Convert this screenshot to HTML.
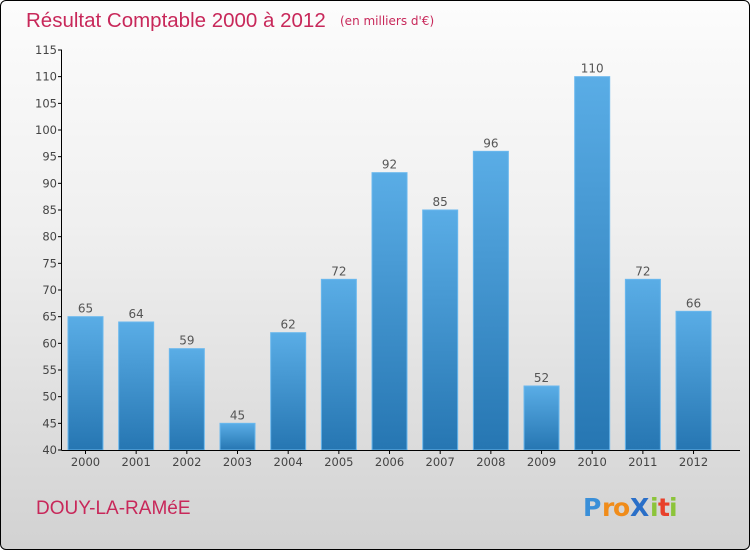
<!DOCTYPE html>
<html><head><meta charset="utf-8"><style>
html,body{margin:0;padding:0;width:750px;height:550px;overflow:hidden;background:#fff}
#wrap{position:absolute;left:0;top:0;width:748px;height:548px;border:1px solid #000;border-radius:6px;background:linear-gradient(#fcfcfc 0%,#f0f0f0 40%,#d2d2d2 100%);overflow:hidden}
text{font-family:"DejaVu Sans","Liberation Sans",sans-serif}
</style></head><body>
<div id="wrap">
<svg id="chart" width="750" height="550" style="position:absolute;left:-1px;top:-1px">
<defs><linearGradient id="bg" x1="0" y1="0" x2="0" y2="1"><stop offset="0" stop-color="#5aade6"/><stop offset="1" stop-color="#2676b2"/></linearGradient></defs>
<text x="26" y="27" font-size="20.5" fill="#c8285a" style="font-family:'Liberation Sans',sans-serif;font-weight:300">Résultat Comptable 2000 à 2012</text>
<text x="340" y="25" font-size="12" fill="#c8285a">(en milliers d'€)</text>
<text x="36" y="514" font-size="19" fill="#c8285a" style="font-family:'Liberation Sans',sans-serif">DOUY-LA-RAMéE</text>
<g font-size="25" font-weight="bold" style="font-family:'Liberation Sans',sans-serif">
<text x="583" y="516" fill="#3a8fd8">P</text><text x="602" y="516" fill="#f08c1a">r</text><text x="613" y="516" fill="#f08c1a">o</text><text x="630" y="516" fill="#2a6fc8">X</text><text x="650" y="516" fill="#8cc43a">i</text><text x="658" y="516" fill="#e8402a">t</text><text x="669" y="516" fill="#8cc43a">i</text>
</g>
<g id="plot"></g>
</svg>
</div>
<script>
const years=["2000","2001","2002","2003","2004","2005","2006","2007","2008","2009","2010","2011","2012"];
const values=[65,64,59,45,62,72,92,85,96,52,110,72,66];
const yTicks=[40,45,50,55,60,65,70,75,80,85,90,95,100,105,110,115];
const NS="http://www.w3.org/2000/svg";
const g=document.getElementById('plot');
const y0=450,yTop=50,vMin=40,vMax=115;
const y=v=>y0-(v-vMin)*(y0-yTop)/(vMax-vMin);
const step=50.67,bw=35;
const x=i=>85.5+i*step;
function mk(t,a){const e=document.createElementNS(NS,t);for(const k in a)e.setAttribute(k,a[k]);g.appendChild(e);return e;}
values.forEach((v,i)=>{
 const r=mk('rect',{x:x(i)-bw/2,y:y(v),width:bw,height:y0-y(v),fill:'url(#bg)',stroke:'#6ab8ee','stroke-width':1});
 
 
 const t=mk('text',{x:x(i),y:y(v)-4,'text-anchor':'middle','font-size':12,fill:'#555'});
 t.textContent=v;
 
 
 const xl=mk('text',{x:x(i),y:466,'text-anchor':'middle','font-size':11.5,fill:'#444'});
 xl.textContent=years[i];
 
 
 const tk=mk('line',{x1:x(i),x2:x(i),y1:y0,y2:y0+4,stroke:'#000'});
 
 
});
yTicks.forEach(v=>{
 const l=mk('line',{x1:58,x2:62,y1:y(v),y2:y(v),stroke:'#000'});
 
 
 const t=mk('text',{x:57,y:y(v)+4,'text-anchor':'end','font-size':11.5,fill:'#444'});
 t.textContent=v;
 
 
});
const ya=mk('line',{x1:61.5,x2:61.5,y1:yTop,y2:y0,stroke:'#000'});


const xa=mk('line',{x1:61.5,x2:740,y1:y0+0.5,y2:y0+0.5,stroke:'#000'});


</script>
</body></html>
